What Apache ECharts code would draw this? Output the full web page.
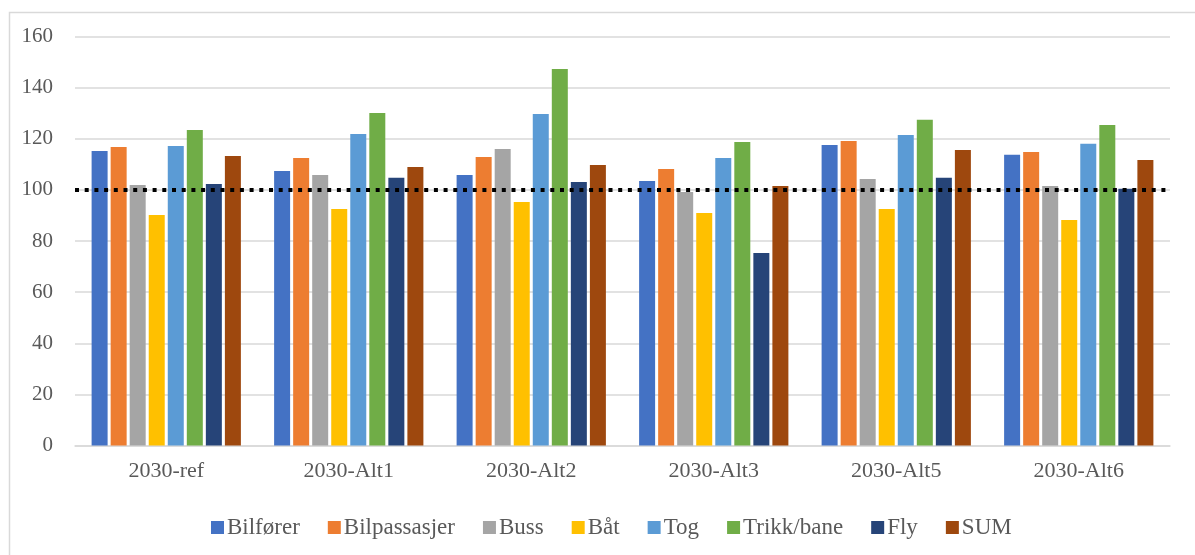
<!DOCTYPE html>
<html>
<head>
<meta charset="utf-8">
<script src="https://cdn.jsdelivr.net/npm/echarts@6/dist/echarts.min.js"></script>
<style>
  html, body { margin: 0; padding: 0; background: #fff; }
  #chart { width: 1195px; height: 555px; }
</style>
</head>
<body>
<div id="chart"></div>
<script>
// Scenario categories along the x-axis
const categories = ['2030-ref', '2030-Alt1', '2030-Alt2', '2030-Alt3', '2030-Alt5', '2030-Alt6'];

// Index values per transport mode (one value per scenario)
const bilforer     = [115.2, 107.4, 105.8, 103.5, 117.6, 113.7];
const bilpassasjer = [116.8, 112.5, 112.9, 108.2, 119.1, 114.8];
const buss         = [101.9, 105.8, 116.0,  99.2, 104.3, 101.5];
const bat          = [ 90.2,  92.5,  95.3,  91.0,  92.5,  88.2];
const tog          = [117.2, 121.9, 129.7, 112.5, 121.5, 118.0];
const trikkBane    = [123.4, 130.1, 147.3, 118.7, 127.4, 125.4];
const fly          = [102.3, 104.7, 103.1,  75.3, 104.7, 100.4];
const sum          = [113.3, 108.9, 109.7, 101.5, 115.6, 111.7];

// Reference level drawn as a dotted line
const referenceLevel = 100;

const seriesNames = ['Bilfører', 'Bilpassasjer', 'Buss', 'Båt', 'Tog', 'Trikk/bane', 'Fly', 'SUM'];
const seriesData = [bilforer, bilpassasjer, buss, bat, tog, trikkBane, fly, sum];
const colors = ['#4472C4', '#ED7D31', '#A5A5A5', '#FFC000', '#5B9BD5', '#70AD47', '#264478', '#9E480E'];

const textColor = '#595959';
const font = '"Liberation Serif", "Times New Roman", serif';

const series = seriesNames.map((name, i) => ({
  name: name,
  type: 'bar',
  data: seriesData[i],
  barWidth: 16,
  barGap: '19%',
  itemStyle: { color: colors[i] },
  emphasis: { disabled: true }
}));

// Dotted reference line across the plot at 100
series[0].markLine = {
  silent: true,
  symbol: ['none', 'none'],
  label: { show: false },
  lineStyle: { color: '#000', width: 4, type: [4, 5.7], cap: 'butt' },
  data: [{ yAxis: referenceLevel }],
  z: 10
};

const chart = echarts.init(document.getElementById('chart'), null, { renderer: 'canvas' });
chart.setOption({
  animation: false,
  backgroundColor: '#fff',
  color: colors,
  graphic: [{
    type: 'rect',
    left: 7, top: 10,
    shape: { width: 1210, height: 570 },
    style: { fill: 'none', stroke: '#D9D9D9', lineWidth: 1.5 },
    silent: true
  }],
  grid: { left: 75, right: 25, top: 36.5, bottom: 109.5, containLabel: false },
  legend: {
    bottom: 11,
    left: 206,
    icon: 'rect',
    itemWidth: 13,
    itemHeight: 13,
    itemGap: 28,
    textStyle: { color: textColor, fontFamily: font, fontSize: 23, padding: [0, 0, 0, -2] },
    data: seriesNames
  },
  xAxis: {
    type: 'category',
    data: categories,
    axisLine: { lineStyle: { color: '#D9D9D9', width: 1.5 } },
    axisTick: { show: false },
    axisLabel: { color: textColor, fontFamily: font, fontSize: 22, margin: 15 }
  },
  yAxis: {
    type: 'value',
    min: 0, max: 160, interval: 20,
    axisLine: { show: false },
    axisTick: { show: false },
    splitLine: { lineStyle: { color: '#D9D9D9', width: 1.5 } },
    axisLabel: { color: textColor, fontFamily: font, fontSize: 21, margin: 22, padding: [7, 0, 0, 0] }
  },
  series: series
});
</script>
</body>
</html>
